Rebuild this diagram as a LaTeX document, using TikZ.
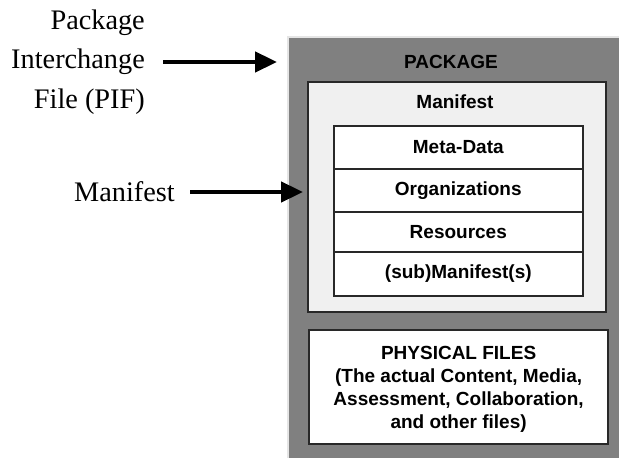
\documentclass[tikz,border=0pt]{standalone}
\usepackage{fontspec}
\setmainfont{Liberation Serif}
\setsansfont{Liberation Sans}
\usetikzlibrary{arrows.meta}
\definecolor{pkggray}{HTML}{808080}
\definecolor{manfill}{HTML}{F0F0F0}
\definecolor{edge}{HTML}{282828}
\tikzset{
  box/.style={draw=edge, anchor=north west, inner sep=0pt},
  label/.style={font=\sffamily\bfseries\fontsize{19bp}{23bp}\selectfont, inner sep=0pt},
  side/.style={font=\fontsize{28.3bp}{39.5bp}\selectfont, align=right, anchor=east, inner sep=0pt},
  bigarrow/.style={line width=4.6bp, -{Triangle[length=22bp,width=20bp]}},
}
\begin{document}
\begin{tikzpicture}[x=1bp,y=-1bp]
\useasboundingbox (0,0) rectangle (619,458);

% outer package area
\node[anchor=north west, fill=pkggray, minimum width=331bp, minimum height=421bp, inner sep=0pt] (pkg) at (288,37) {};
\draw[white!80!pkggray, line width=1.2bp] (pkg.south west) -- (pkg.north west) -- (pkg.north east);
\node[label] (pkgtitle) at (451,62) {PACKAGE};

% manifest block
\node[box, fill=manfill, line width=2.2bp, minimum width=298bp, minimum height=230bp] (manbox) at (307,81) {};
\node[label] (mantitle) at (455,102) {Manifest};

% manifest rows
\node[box, fill=white, line width=1.6bp, minimum width=249bp, minimum height=43bp] (meta) at (333,125) {};
\node[box, fill=white, line width=1.6bp, minimum width=249bp, minimum height=43bp] (orgs) at (333,168) {};
\node[box, fill=white, line width=1.6bp, minimum width=249bp, minimum height=40bp] (res) at (333,211) {};
\node[box, fill=white, line width=1.6bp, minimum width=249bp, minimum height=44bp] (sub) at (333,251) {};
\node[label] at (meta.center) {Meta-Data};
\node[label] at (orgs.center) {Organizations};
\node[label] at (res.center) {Resources};
\node[label] at (sub.center) {(sub)Manifest(s)};

% physical files block
\node[box, fill=white, line width=2.2bp, minimum width=299bp, minimum height=114bp] (files) at (308,329) {};
\node[label, align=center] at ([yshift=-2.5bp]files.center) {PHYSICAL FILES\\(The actual Content, Media,\\Assessment, Collaboration,\\and other files)};

% side labels and arrows
\node[side] (pif) at (145,62) {Package\\Interchange\\File (PIF)};
\node[side] (manlbl) at (175,192) {Manifest};
\draw[bigarrow, shorten >=11bp] ([xshift=18bp]pif.east) -- (pif.east -| pkg.west);
\draw[bigarrow, shorten >=4bp] ([xshift=15bp]manlbl.east) -- (manlbl.east -| manbox.west);
\end{tikzpicture}
\end{document}
